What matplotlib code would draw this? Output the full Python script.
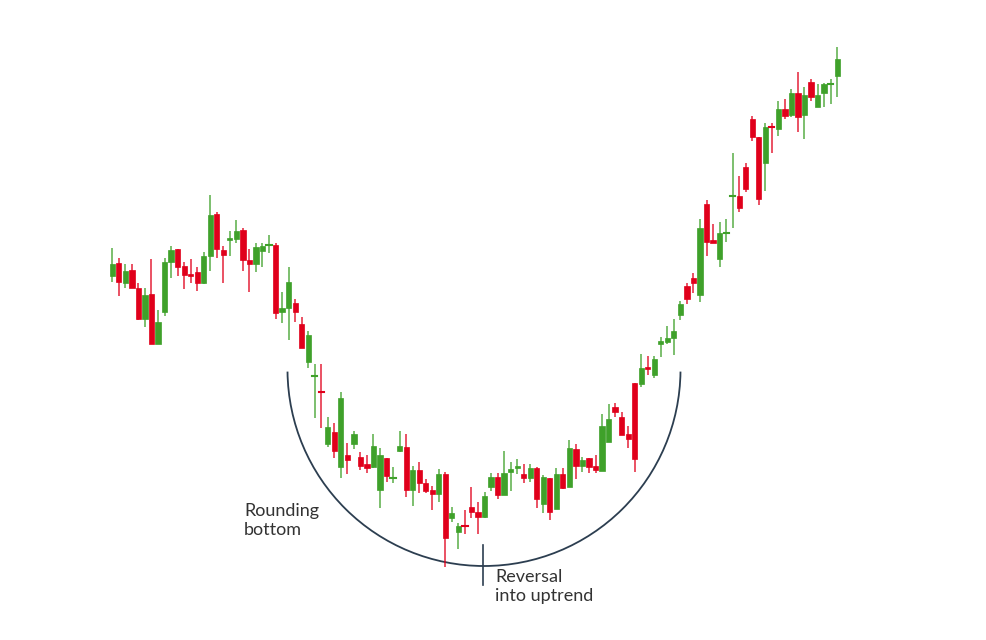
import matplotlib
matplotlib.use("Agg")
import matplotlib.pyplot as plt
from matplotlib.patches import Arc, Rectangle

opens = [364,377,357,370,352,321,346,296,328,378,391,374,366,368,357,384,426,390,400,401,410,380,376,389,395,395,328,332,337,
         316,278,264,249,196,208,173,185,196,183,176,173,150,182,162,189,193,150,170,157,150,146,166,122,108,115,133,128,123,
         153,163,145,168,172,166,162,172,136,162,131,166,153,191,174,182,174,169,198,233,223,206,257,256,273,265,296,298,302,325,354,362,
         345,436,400,381,407,443.5,444,473,521,503,477,514,511,531,525,547,525,558,533,547,555.5,564]
highs = [392,382,376,376,357,352,381,330,382,394,391,378,381,373,388,445,428,394,409,420,412,391,397,397,405,397,348,373,341,
         323,309,276,276,223,217,248,197,209,188,185,206,192,182,173,209,206,174,178,161,154,171,168,133,117,130,153,138,148,
         167,167,189,178,181,176,176,173,165,162,172,172,200,196,183,182,185,226,236,237,228,214,257,286,284,284,303,314,321,339,357,367,
         421,440,416,418,421,487,464,477,524,503,517,517,539,541,551,568,553,561,556,557,561,593]
lows = [358,344,352,352,320,313,296,296,324,362,364,351,357,349,356,369,382,357,384,397,369,348,368,373,387,321,317,300,318,
        292,272,222,212,193,182,162,166,191,170,167,172,132,158,157,188,143,134,147,147,130,138,73,118,91,106,122,106,122,
        149,141,145,149,166,157,158,132,127,120,131,151,153,161,168,167,167,169,198,223,205,192,168,253,265,262,283,296,285,320,336,347,
        338,384,397,373,398,412,428,448,499,435,449,487,504,521,523,508,501,539,533,533,536,543]
closes = [376,358,369,352,321,345,296,318,378,390,373,365,364,357,384,425,391,385,402,409,380,376,393,394,396,327,332,358,328,
          292,305,265,248,213,189,242,180,206,174,172,194,185,164,163,194,150,170,157,149,146,166,102,127,114,114,128,123,144,
          163,145,167,171,174,162,172,141,163,128,166,152,192,174,180,173,170,214,221,228,205,201,181,272,271,281,299,302,309,336,341,357,
          412,398,397,407,408,444.5,432,451,503,441,513,513,531,524,547,523,545,543,545,556,556,581]

label_bottom = "Rounding\nbottom"
label_reversal = "Reversal\ninto uptrend"

GREEN = "#3fa12a"
RED = "#e0001b"
DARK = "#2c3e50"

fig = plt.figure(figsize=(9.86, 6.4), dpi=100)
ax = fig.add_axes([0, 0, 1, 1])
ax.set_xlim(-112.3 / 6.53, (986 - 112.3) / 6.53)
ax.set_ylim(0, 640)
ax.axis("off")

w = 0.8
for i, (o, h, l, c) in enumerate(zip(opens, highs, lows, closes)):
    col = GREEN if c >= o else RED
    ax.plot([i, i], [l, h], color=col, lw=1.2, alpha=0.8, solid_capstyle="butt")
    lo, hi = min(o, c), max(o, c)
    if hi - lo < 1.5:
        ax.plot([i - w / 2, i + w / 2], [(o + c) / 2] * 2, color=col, lw=1.5)
    else:
        ax.add_patch(Rectangle((i - w / 2, lo), w, hi - lo, facecolor=col, edgecolor=col, lw=0.5))

cx = (484 - 112.3) / 6.53
rx = 196.5 / 6.53
ax.add_patch(Arc((cx, 640 - 369.5), 2 * rx, 2 * 196.5, theta1=184, theta2=356, color=DARK, lw=1.3))
xm = (483 - 112.3) / 6.53
ax.plot([xm, xm], [55, 95], color=DARK, lw=1.2)

ax.text((244 - 112.3) / 6.53, 640 - 503, label_bottom, fontsize=13, family="Lato", color="#333333",
        va="top", ha="left", linespacing=1.25)
ax.text((495 - 112.3) / 6.53, 640 - 569, label_reversal, fontsize=13, family="Lato", color="#333333",
        va="top", ha="left", linespacing=1.25)

fig.savefig("out.png", dpi=100)
